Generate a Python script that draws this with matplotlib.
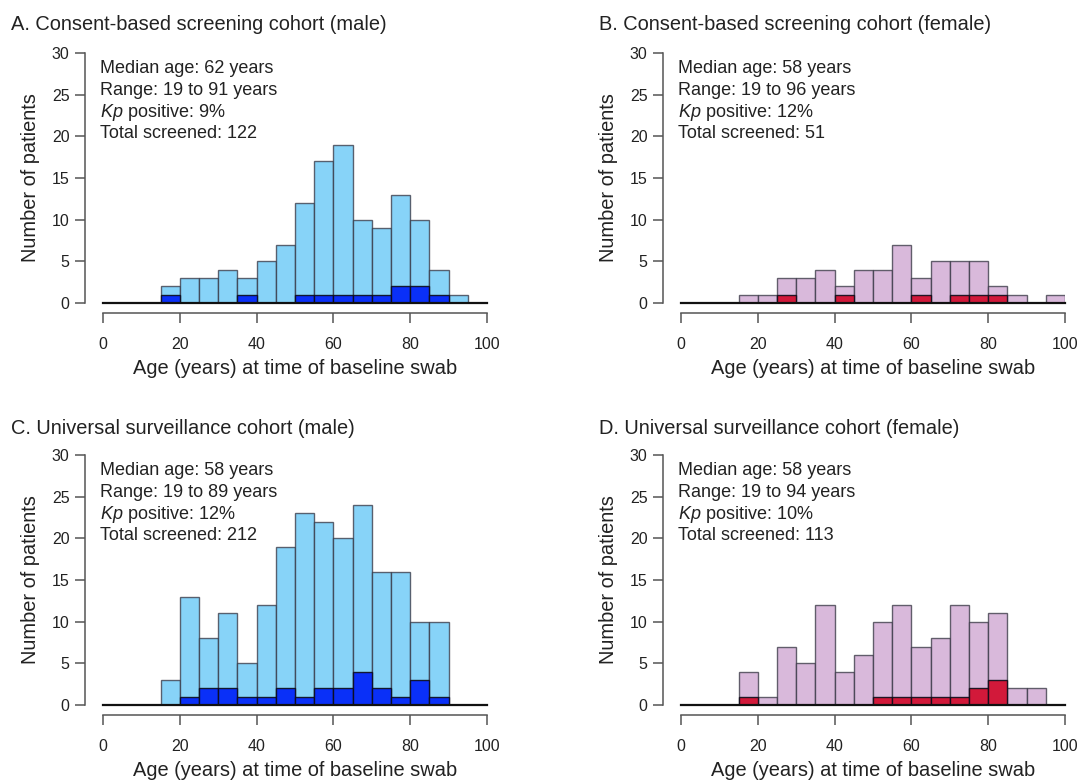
import matplotlib
matplotlib.use("Agg")
import matplotlib.pyplot as plt
import numpy as np

plt.rcParams['font.family'] = ['Liberation Sans', 'DejaVu Sans']
plt.rcParams['mathtext.fontset'] = 'custom'
plt.rcParams['mathtext.rm'] = 'Liberation Sans'
plt.rcParams['mathtext.it'] = 'Liberation Sans:italic'

bin_edges = list(range(0, 105, 5))

# counts per 5-year bin (0-5 ... 95-100)
a_total = [0, 0, 0, 2, 3, 3, 4, 3, 5, 7, 12, 17, 19, 10, 9, 13, 10, 4, 1, 0]
a_pos   = [0, 0, 0, 1, 0, 0, 0, 1, 0, 0, 1, 1, 1, 1, 1, 2, 2, 1, 0, 0]
b_total = [0, 0, 0, 1, 1, 3, 3, 4, 2, 4, 4, 7, 3, 5, 5, 5, 2, 1, 0, 1]
b_pos   = [0, 0, 0, 0, 0, 1, 0, 0, 1, 0, 0, 0, 1, 0, 1, 1, 1, 0, 0, 0]
c_total = [0, 0, 0, 3, 13, 8, 11, 5, 12, 19, 23, 22, 20, 24, 16, 16, 10, 10, 0, 0]
c_pos   = [0, 0, 0, 0, 1, 2, 2, 1, 1, 2, 1, 2, 2, 4, 2, 1, 3, 1, 0, 0]
d_total = [0, 0, 0, 4, 1, 7, 5, 12, 4, 6, 10, 12, 7, 8, 12, 10, 11, 2, 2, 0]
d_pos   = [0, 0, 0, 1, 0, 0, 0, 0, 0, 0, 1, 1, 1, 1, 1, 2, 3, 0, 0, 0]

titles = ["A. Consent-based screening cohort (male)",
          "B. Consent-based screening cohort (female)",
          "C. Universal surveillance cohort (male)",
          "D. Universal surveillance cohort (female)"]
stats = [("62", "19 to 91", "9%", "122"),
         ("58", "19 to 96", "12%", "51"),
         ("58", "19 to 89", "12%", "212"),
         ("58", "19 to 94", "10%", "113")]

light_blue = "#87D3F8"
dark_blue = "#0A30F8"
light_pink = "#D9B9DB"
dark_red = "#D2193A"

W, H = 1082, 782
fig = plt.figure(figsize=(W / 100, H / 100), dpi=100)
PX = 72 / 100  # points per pixel

panels = [
    (a_total, a_pos, light_blue, dark_blue, 103, 303, 11, 24),
    (b_total, b_pos, light_pink, dark_red, 681, 303, 599, 24),
    (c_total, c_pos, light_blue, dark_blue, 103, 705, 11, 429),
    (d_total, d_pos, light_pink, dark_red, 681, 705, 599, 429),
]

text_col = "#222222"
spine_col = "#555555"

for i, (tot, pos, c1, c2, x0, y0, tx, ty) in enumerate(panels):
    ax = fig.add_axes([x0 / W, (H - y0) / H, 384 / W, 250 / H])
    left = bin_edges[:-1]
    ax.bar(left, tot, width=5, align='edge', color=c1,
           edgecolor=(0.2, 0.2, 0.25, 0.75), linewidth=1.0)
    ax.bar(left, pos, width=5, align='edge', color=c2,
           edgecolor=(0.05, 0.05, 0.1, 0.9), linewidth=1.0)
    ax.axhline(0, 0, 1, color='#111111', linewidth=1.6, clip_on=False, zorder=5)
    ax.set_xlim(0, 100)
    ax.set_ylim(0, 30)
    for s in ['top', 'right']:
        ax.spines[s].set_visible(False)
    ax.spines['left'].set_position(('outward', 18 * PX))
    ax.spines['bottom'].set_position(('outward', 10 * PX))
    ax.spines['left'].set_bounds(0, 30)
    ax.spines['bottom'].set_bounds(0, 100)
    for s in ['left', 'bottom']:
        ax.spines[s].set_color(spine_col)
        ax.spines[s].set_linewidth(1.1)
    ax.set_xticks([0, 20, 40, 60, 80, 100])
    ax.set_yticks([0, 5, 10, 15, 20, 25, 30])
    ax.tick_params(axis='both', colors=spine_col, labelcolor=text_col,
                   labelsize=11.5, length=10 * PX, width=1.1, direction='out')
    ax.tick_params(axis='x', pad=10)
    ax.tick_params(axis='y', pad=4)
    ax.set_xlabel("Age (years) at time of baseline swab", fontsize=14.4, color=text_col)
    ax.set_ylabel("Number of patients", fontsize=14.4, color=text_col)
    ax.xaxis.set_label_coords(0.5, -0.226)
    ax.yaxis.set_label_coords(-0.163, 0.5)
    med, rng, kp, n = stats[i]
    lines = [f"Median age: {med} years",
             f"Range: {rng} years",
             f"$Kp$ positive: {kp}",
             f"Total screened: {n}"]
    for j, ln in enumerate(lines):
        ax.text(-0.8, 28.1 - 2.6 * j, ln, fontsize=13, color=text_col,
                ha='left', va='center')
    fig.text(tx / W, 1 - ty / H, titles[i], fontsize=14.4, color=text_col,
             ha='left', va='center')

fig.savefig("out.png", dpi=100, facecolor='white')
